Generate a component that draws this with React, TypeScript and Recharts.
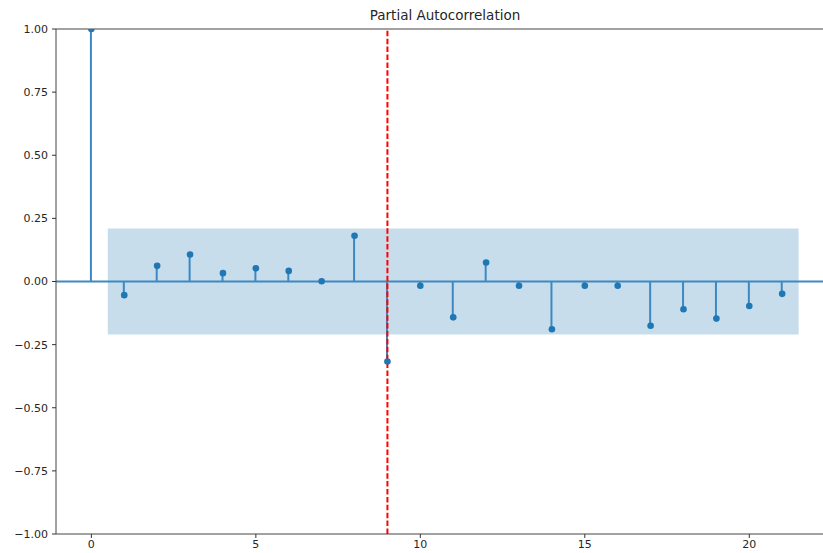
import React from 'react';
import { ComposedChart, XAxis, YAxis, Bar, Scatter, ReferenceArea, ReferenceLine } from 'recharts';

const lags = [0, 1, 2, 3, 4, 5, 6, 7, 8, 9, 10, 11, 12, 13, 14, 15, 16, 17, 18, 19, 20, 21];
const pacfValues = [
  1.0, -0.054, 0.062, 0.107, 0.033, 0.052, 0.042, 0.001, 0.181, -0.317, -0.017,
  -0.142, 0.075, -0.017, -0.189, -0.017, -0.017, -0.175, -0.11, -0.147, -0.097, -0.049,
];
const confBound = 0.21;
const bandStart = 0.5;
const bandEnd = 21.5;
const xTicks = [0, 5, 10, 15, 20];
const yTicks = [-1, -0.75, -0.5, -0.25, 0, 0.25, 0.5, 0.75, 1];
const highlightLag = 9;
const title = 'Partial Autocorrelation';

const data = lags.map((lag, i) => ({ lag, value: pacfValues[i] }));

const FONT = '"DejaVu Sans", sans-serif';
const C0 = '#1f77b4';

const fmtY = (v: number) => (v < 0 ? '\u2212' + Math.abs(v).toFixed(2) : v.toFixed(2));

const Dot = (props: any) => {
  const { cx, cy } = props;
  if (cx == null || cy == null) return null;
  return <circle cx={cx} cy={cy} r={3.3} fill={C0} />;
};

export default function App() {
  return (
    <div
      style={{
        position: 'fixed',
        left: 0,
        top: 0,
        width: 823,
        height: 553,
        overflow: 'hidden',
        background: '#fff',
      }}
    >
      <div
        style={{
          position: 'absolute',
          left: 320,
          width: 250,
          top: 8.6,
          lineHeight: 1,
          textAlign: 'center',
          fontFamily: FONT,
          fontSize: 13.5,
          color: '#262626',
          whiteSpace: 'nowrap',
        }}
      >
        {title}
      </div>
      <ComposedChart
        width={840}
        height={553}
        data={data}
        margin={{ top: 29, right: 6, bottom: 0, left: 0 }}
      >
        <XAxis
          dataKey="lag"
          type="number"
          domain={[-1.075, 22.575]}
          allowDataOverflow
          ticks={xTicks}
          tick={{ fontFamily: FONT, fontSize: 11, fill: '#262626' }}
          tickLine={{ stroke: '#333' }}
          axisLine={{ stroke: '#444' }}
          tickSize={4}
          tickMargin={2}
          height={19}
          interval={0}
        />
        <YAxis
          type="number"
          domain={[-1, 1]}
          allowDataOverflow
          ticks={yTicks}
          tickFormatter={fmtY}
          tick={{ fontFamily: FONT, fontSize: 11, fill: '#262626' }}
          tickLine={{ stroke: '#333' }}
          axisLine={{ stroke: '#444' }}
          tickSize={4}
          tickMargin={4}
          width={56}
          interval={0}
        />
        <ReferenceArea
          x1={bandStart}
          x2={bandEnd}
          y1={-confBound}
          y2={confBound}
          fill={C0}
          fillOpacity={0.25}
          stroke="none"
          ifOverflow="visible"
        />
        <ReferenceLine y={1} stroke="#444" strokeWidth={1} />
        <Bar dataKey="value" barSize={2} fill="#3d88c2" isAnimationActive={false} />
        <ReferenceLine y={0} stroke="#3f89c0" strokeWidth={2} />
        <Scatter dataKey="value" shape={<Dot />} isAnimationActive={false} />
        <ReferenceLine
          x={highlightLag}
          stroke="#ff0000"
          strokeWidth={2}
          strokeDasharray="5.5 2.4"
        />
      </ComposedChart>
    </div>
  );
}
